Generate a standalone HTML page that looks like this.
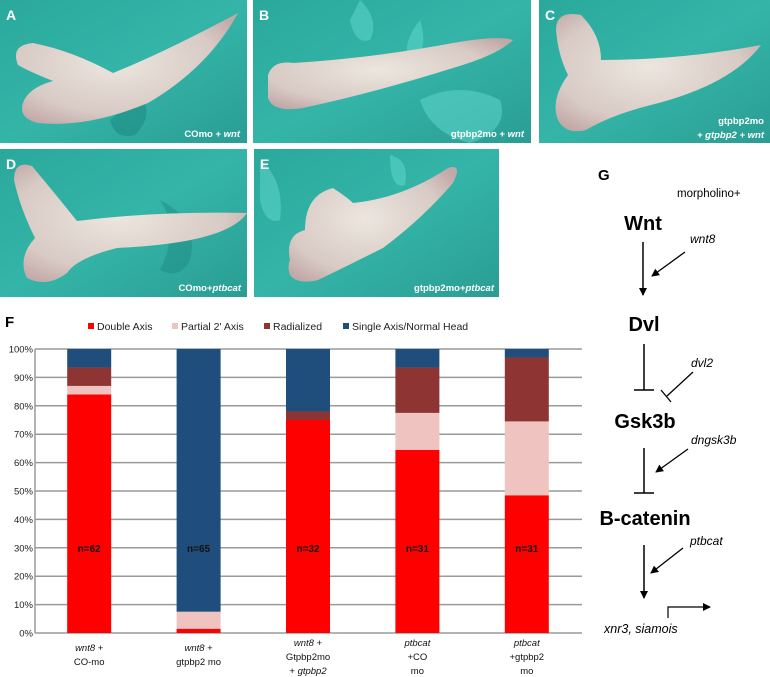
<!DOCTYPE html>
<html><head><meta charset="utf-8"><style>
html,body{margin:0;padding:0;background:#fff}
svg{display:block;font-family:"Liberation Sans",Arial,sans-serif}
</style></head><body>
<svg id="fig" width="770" height="677" viewBox="0 0 770 677" xmlns="http://www.w3.org/2000/svg">
<defs>
<radialGradient id="emb" cx="45%" cy="45%" r="65%"><stop offset="0" stop-color="#ece6df"/><stop offset="0.7" stop-color="#d8cac4"/><stop offset="1" stop-color="#c2a8a8"/></radialGradient>
<linearGradient id="teal" x1="0" y1="0" x2="1" y2="1"><stop offset="0" stop-color="#2aa89c"/><stop offset="0.5" stop-color="#34b5a8"/><stop offset="1" stop-color="#2a9d93"/></linearGradient>
<clipPath id="clipE"><rect x="254" y="149" width="245" height="148"/></clipPath>
<marker id="ah" markerWidth="8" markerHeight="8" refX="7" refY="4" orient="auto" markerUnits="userSpaceOnUse"><path d="M0,0 L8,4 L0,8 z" fill="#000"/></marker>
</defs>

<g>
<rect x="0" y="0" width="247" height="143" fill="url(#teal)"/>
<path d="M140,95 q15,20 -5,40 q-20,5 -25,-15z" fill="#1e8c83" opacity="0.6"/>
<path d="M18,65 q-8,-20 15,-22 q40,8 80,30 q50,-20 125,-60 q-30,55 -90,90 q-60,25 -110,20 q-20,-5 -15,-20 q5,-15 30,-22 q-25,-10 -35,-16z" fill="url(#emb)"/>
<text x="6" y="20" font-size="14" font-weight="bold" fill="#fff">A</text>
<text x="240" y="137" font-size="9.5" font-weight="bold" fill="#fff" text-anchor="end">COmo + <tspan font-style="italic">wnt</tspan></text>
</g>
<g>
<rect x="253" y="0" width="278" height="143" fill="url(#teal)"/>
<path d="M360,0 q20,20 10,40 q-15,5 -20,-20z M420,20 q10,30 -10,45 q-10,-20 10,-45z M420,100 q40,-20 80,0 q10,30 -30,43 q-40,-10 -50,-43z" fill="#5fd6ca" opacity="0.55"/>
<path d="M268,75 q5,-15 25,-12 q80,-5 160,-20 q45,-8 60,-3 q-15,15 -60,28 q-80,25 -150,40 q-30,5 -35,-10z" fill="url(#emb)"/>
<text x="259" y="20" font-size="14" font-weight="bold" fill="#fff">B</text>
<text x="524" y="137" font-size="9.5" font-weight="bold" fill="#fff" text-anchor="end">gtpbp2mo + <tspan font-style="italic">wnt</tspan></text>
</g>
<g>
<rect x="539" y="0" width="231" height="143" fill="url(#teal)"/>
<path d="M556,30 q0,-20 25,-15 q20,20 20,45 q80,0 160,-15 q-30,40 -110,60 q-40,10 -65,25 q-20,5 -28,-10 q-8,-20 10,-45 q-10,-20 -12,-45z" fill="url(#emb)"/>
<text x="545" y="20" font-size="14" font-weight="bold" fill="#fff">C</text>
<text x="764" y="124" font-size="9.5" font-weight="bold" fill="#fff" text-anchor="end">gtpbp2mo</text>
<text x="764" y="138" font-size="9.5" font-weight="bold" fill="#fff" text-anchor="end" font-style="italic">+ gtpbp2 + wnt</text>
</g>
<g>
<rect x="0" y="149" width="247" height="148" fill="url(#teal)"/>
<path d="M160,200 q20,30 0,70 q20,10 30,-10 q10,-40 -30,-60z" fill="#1e8c83" opacity="0.5"/>
<path d="M14,180 q0,-20 18,-14 q25,30 45,55 q80,-10 170,-8 q-20,30 -130,35 q-40,10 -50,25 q-20,15 -40,5 q-10,-20 8,-40 q-15,-30 -21,-58z" fill="url(#emb)"/>
<text x="6" y="169" font-size="14" font-weight="bold" fill="#fff">D</text>
<text x="241" y="291" font-size="9.5" font-weight="bold" fill="#fff" text-anchor="end">COmo+<tspan font-style="italic">ptbcat</tspan></text>
</g>
<g>
<rect x="254" y="149" width="245" height="148" fill="url(#teal)"/>
<g clip-path="url(#clipE)">
<path d="M260,160 q25,20 20,60 q-15,5 -20,-20z M390,155 q20,5 15,30 q-15,5 -15,-30z" fill="#5fd6ca" opacity="0.55"/>
<path d="M290,260 q-5,-25 15,-30 q0,-35 28,-42 q15,10 20,15 q50,-5 95,-35 q15,-5 5,15 q-30,35 -70,65 q-40,20 -65,32 q-20,5 -28,-5 q-3,-8 0,-15z" fill="url(#emb)"/>
</g>
<text x="260" y="169" font-size="14" font-weight="bold" fill="#fff">E</text>
<text x="494" y="291" font-size="9.5" font-weight="bold" fill="#fff" text-anchor="end">gtpbp2mo+<tspan font-style="italic">ptbcat</tspan></text>
</g>

<g>
<text x="598" y="180" font-size="15" font-weight="bold">G</text>
<text x="677" y="197" font-size="11.5">morpholino+</text>
<text x="643" y="230" font-size="20" font-weight="bold" text-anchor="middle">Wnt</text>
<text x="690" y="243" font-size="12" font-style="italic">wnt8</text>
<line x1="643" y1="242" x2="643" y2="295" stroke="#000" stroke-width="1.5" marker-end="url(#ah)"/>
<line x1="685" y1="252" x2="652" y2="276" stroke="#000" stroke-width="1.3" marker-end="url(#ah)"/>
<text x="644" y="331" font-size="20" font-weight="bold" text-anchor="middle">Dvl</text>
<line x1="644" y1="344" x2="644" y2="390" stroke="#000" stroke-width="1.5"/>
<line x1="634" y1="390" x2="654" y2="390" stroke="#000" stroke-width="1.5"/>
<text x="691" y="367" font-size="12" font-style="italic">dvl2</text>
<line x1="693" y1="372" x2="667" y2="396" stroke="#000" stroke-width="1.3"/>
<line x1="661" y1="390" x2="671" y2="402" stroke="#000" stroke-width="1.3"/>
<text x="645" y="428" font-size="20" font-weight="bold" text-anchor="middle">Gsk3b</text>
<text x="691" y="444" font-size="12" font-style="italic">dngsk3b</text>
<line x1="644" y1="448" x2="644" y2="493" stroke="#000" stroke-width="1.5"/>
<line x1="634" y1="493" x2="654" y2="493" stroke="#000" stroke-width="1.5"/>
<line x1="688" y1="449" x2="656" y2="472" stroke="#000" stroke-width="1.3" marker-end="url(#ah)"/>
<text x="645" y="525" font-size="20" font-weight="bold" text-anchor="middle">B-catenin</text>
<text x="690" y="545" font-size="12" font-style="italic">ptbcat</text>
<line x1="644" y1="545" x2="644" y2="598" stroke="#000" stroke-width="1.5" marker-end="url(#ah)"/>
<line x1="683" y1="548" x2="651" y2="573" stroke="#000" stroke-width="1.3" marker-end="url(#ah)"/>
<polyline points="668,618 668,607 710,607" fill="none" stroke="#000" stroke-width="1.2" marker-end="url(#ah)"/>
<text x="604" y="633" font-size="12.5" font-style="italic">xnr3, siamois</text>
</g>

<g id="chart">
<text x="5" y="327" font-size="15" font-weight="bold">F</text>
</g>
</svg>
<script>
const categories = ["wnt8 + CO-mo","wnt8 + gtpbp2 mo","wnt8 + Gtpbp2mo + gtpbp2","ptbcat +CO mo","ptbcat +gtpbp2 mo"];
const doubleAxis = [84, 1.5, 75, 64.5, 48.5];
const partialAxis = [3, 6, 0, 13, 26];
const radialized = [6.5, 0, 3, 16, 22.5];
const singleAxis = [6.5, 92.5, 22, 6.5, 3];
const nLabels = ["n=62","n=65","n=32","n=31","n=31"];
const yTicks = [0,10,20,30,40,50,60,70,80,90,100];
const seriesNames = ["Double Axis","Partial 2' Axis","Radialized","Single Axis/Normal Head"];
const seriesColors = ["#ff0000","#efc3c0","#8e3534","#1f4e7c"];

const NS="http://www.w3.org/2000/svg";
const g=document.getElementById('chart');
const X0=35,X1=582,Y0=633,Y1=349;
const y=v=>Y0-(v/100)*(Y0-Y1);
const step=(X1-X0)/categories.length;
const xc=i=>X0+step*(i+0.5)-0.5;
const BW=44;
function mk(tag,a){const e=document.createElementNS(NS,tag);for(const k in a)e.setAttribute(k,a[k]);g.appendChild(e);return e;}

yTicks.forEach(t=>{
  const l=mk('line',{x1:X0,x2:X1,y1:y(t),y2:y(t),stroke:'#9a9a9a','stroke-width':1.5});
  
  
  const tx=mk('text',{x:X0-2,y:y(t)+3.5,'font-size':9.5,'text-anchor':'end',fill:'#222'});
  tx.textContent=t+'%';
  
  
});
mk('line',{x1:X0,x2:X0,y1:Y1,y2:Y0,stroke:'#9a9a9a','stroke-width':1.5});

const series=[doubleAxis,partialAxis,radialized,singleAxis];
categories.forEach((c,i)=>{
  let base=0;
  series.forEach((s,k)=>{
    const v=s[i];
    if(v>0){
      const r=mk('rect',{x:xc(i)-BW/2,y:y(base+v),width:BW,height:y(base)-y(base+v),fill:seriesColors[k]});
      
      
    }
    base+=v;
  });
  const n=mk('text',{x:xc(i),y:y(28.5),'font-size':10,'font-weight':'bold','text-anchor':'middle',fill:'#111'});
  n.textContent=nLabels[i];
  
  
});

const xl=[
 [["wnt8","i"," +",""],["CO-mo",""]],
 [["wnt8","i"," +",""],["gtpbp2 mo",""]],
 [["wnt8","i"," +",""],["Gtpbp2mo",""],["+ ","","gtpbp2","i"]],
 [["ptbcat","i"],["+CO",""],["mo",""]],
 [["ptbcat","i"],["+gtpbp2",""],["mo",""]]
];
xl.forEach((lines,i)=>{
  const top = i<2?651:646;
  lines.forEach((parts,j)=>{
    const t=mk('text',{x:xc(i),y:top+j*14,'font-size':9.5,'text-anchor':'middle',fill:'#111'});
    
    
    for(let p=0;p<parts.length;p+=2){
      const ts=document.createElementNS(NS,'tspan');
      ts.textContent=parts[p];
      if(parts[p+1]==='i')ts.setAttribute('font-style','italic');
      t.appendChild(ts);
    }
  });
});

const legX=[88,172,264,343];
seriesNames.forEach((s,k)=>{
  const r=mk('rect',{x:legX[k],y:323,width:6,height:6,fill:seriesColors[k]});
  
  
  const t=mk('text',{x:legX[k]+9,y:330,'font-size':10.5,fill:'#222'});
  t.textContent=s;
  
  
});
</script>
</body></html>
